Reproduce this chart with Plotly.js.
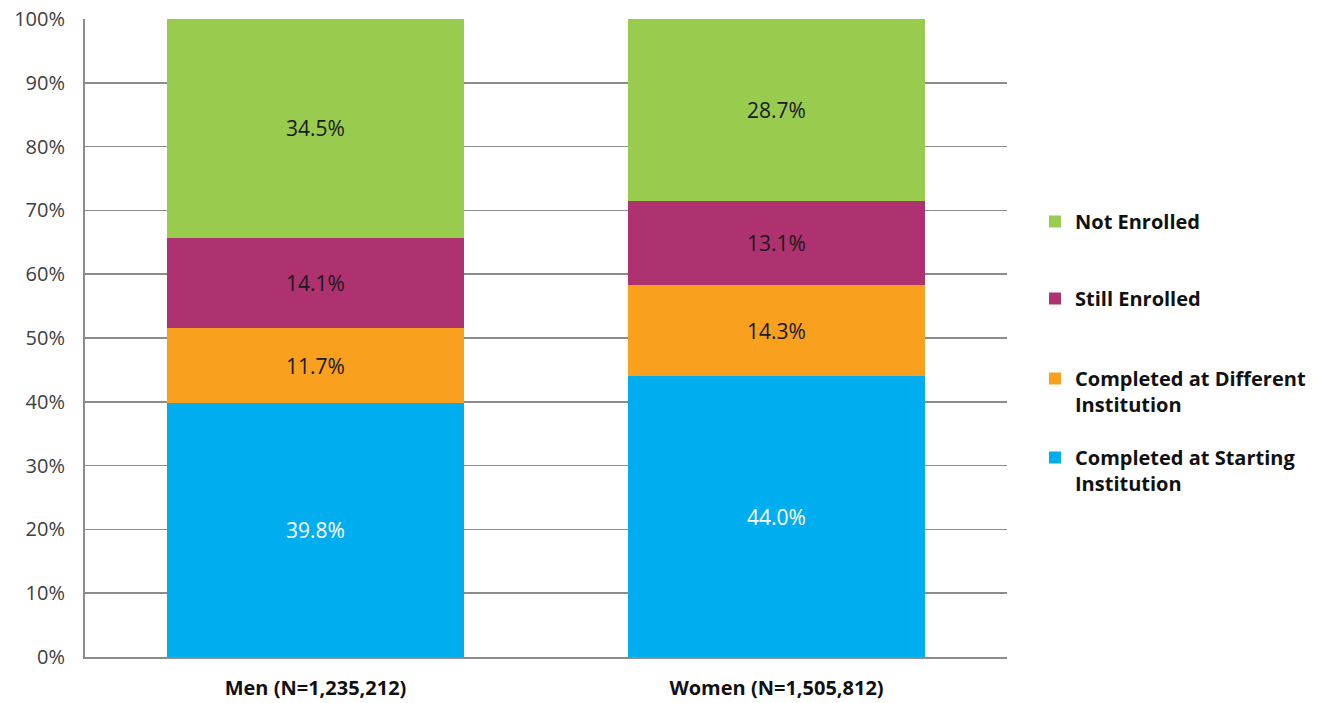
<!DOCTYPE html>
<html>
<head>
<meta charset="utf-8">
<script src="https://cdn.plot.ly/plotly-3.0.1.min.js"></script>
<style>html,body{margin:0;padding:0;background:#fff;}#chart{width:1318px;height:703px;}</style>
</head>
<body>
<div id="chart"></div>
<script>
const categories = ["Men (N=1,235,212)", "Women (N=1,505,812)"];
const seriesNames = ["Completed at Starting<br>Institution", "Completed at Different<br>Institution", "Still Enrolled", "Not Enrolled"];
const completedStarting = [39.8, 44.0];
const completedDifferent = [11.7, 14.3];
const stillEnrolled = [14.1, 13.1];
const notEnrolled = [34.5, 28.7];
const yTickVals = [0, 10, 20, 30, 40, 50, 60, 70, 80, 90, 100];
const yTickText = ["0%", "10%", "20%", "30%", "40%", "50%", "60%", "70%", "80%", "90%", "100%"];

const colors = ["#00AEEF", "#F9A11F", "#AE3170", "#99CB4E"];
const textColors = ["#ffffff", "#1a1a1a", "#1a1a1a", "#1a1a1a"];
const values = [completedStarting, completedDifferent, stillEnrolled, notEnrolled];
const legendIds = ["legend4", "legend3", "legend2", "legend"];

const traces = values.map((v, i) => ({
  type: "bar",
  name: seriesNames[i],
  x: categories,
  y: v,
  marker: {color: colors[i], line: {width: 0}},
  texttemplate: "%{y:.1f}%",
  textposition: "inside",
  insidetextanchor: "middle",
  textangle: 0,
  textfont: {family: "Open Sans", size: 21, color: textColors[i]},
  hoverinfo: "skip",
  legend: legendIds[i]
}));

const legendFont = {family: "Open Sans", size: 20, color: "#111", weight: "bold"};
function mkLegend(yPx) {
  return {
    xref: "container", yref: "container",
    x: 1035 / 1318, y: 1 - yPx / 703,
    xanchor: "left", yanchor: "top",
    font: legendFont, bgcolor: "rgba(0,0,0,0)",
    valign: "top", itemwidth: 30
  };
}

const layout = {
  width: 1318, height: 703,
  margin: {l: 85, r: 311, t: 19, b: 46},
  paper_bgcolor: "#ffffff", plot_bgcolor: "#ffffff",
  barmode: "stack",
  bargap: 0.354,
  font: {family: "Open Sans", color: "#404040"},
  xaxis: {
    type: "category",
    showgrid: false,
    showline: true, linecolor: "#8c8c8c", linewidth: 2,
    ticks: "",
    ticklabelstandoff: 12,
    tickfont: {family: "Open Sans", size: 20, color: "#111", weight: "bold"},
    fixedrange: true
  },
  yaxis: {
    range: [0, 100],
    tickvals: yTickVals, ticktext: yTickText,
    showgrid: true, gridcolor: "#8c8c8c", gridwidth: 1.5,
    showline: true, linecolor: "#8c8c8c", linewidth: 2,
    zeroline: false,
    ticks: "", ticklen: 0,
    ticklabelstandoff: 14,
    tickfont: {family: "Open Sans", size: 20, color: "#404040"},
    fixedrange: true
  },
  showlegend: true,
  legend: mkLegend(202),
  legend2: mkLegend(279),
  legend3: mkLegend(359),
  legend4: mkLegend(438)
};

Plotly.newPlot("chart", traces, layout, {displayModeBar: false, staticPlot: true});
</script>
</body>
</html>
